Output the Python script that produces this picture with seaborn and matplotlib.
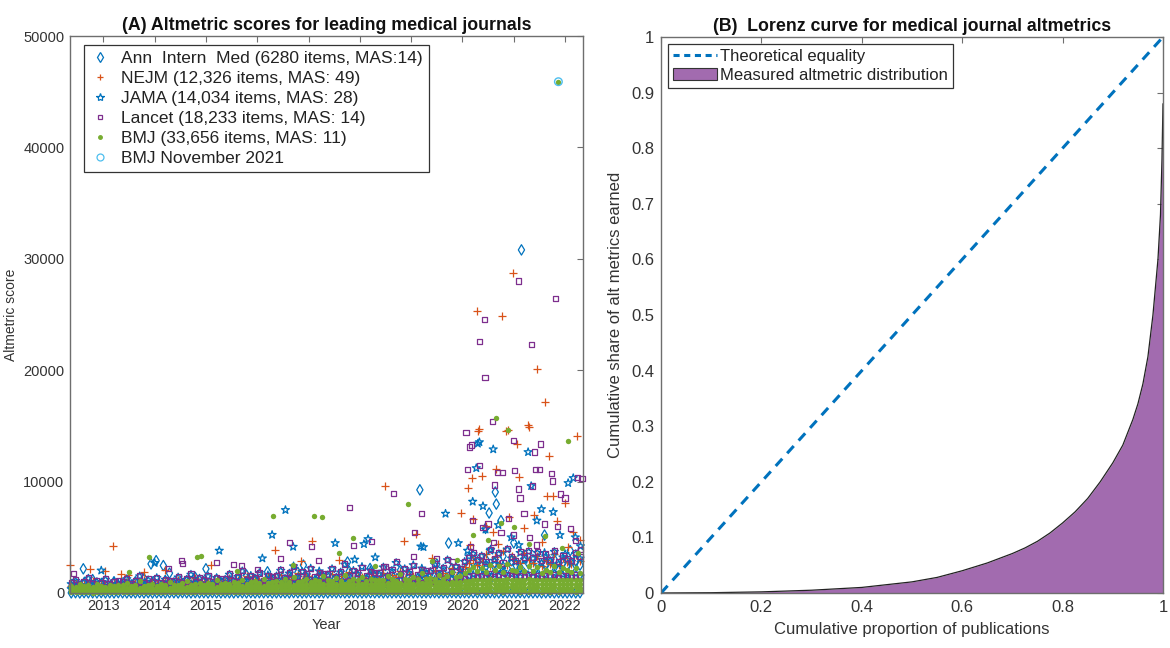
import numpy as np
import pandas as pd
import matplotlib
matplotlib.use("Agg")
import matplotlib.pyplot as plt
import seaborn as sns
from matplotlib.lines import Line2D
from matplotlib.patches import Patch

# ---------------- data: panel A (monthly bands, May 2012 .. Apr 2022) ----------------
months = pd.date_range("2012-05-01", "2022-04-01", freq="MS")

ann_l0 = [10, 25, 5, 30, 15, 20, 8, 35, 12, 22, 6, 28,
          18, 9, 27, 14, 32, 11, 24, 7, 19, 30, 13, 26,
          21, 8, 33, 16, 10, 29, 15, 23, 6, 31, 17, 12,
          25, 14, 9, 34, 20, 11, 28, 7, 22, 16, 30, 10,
          13, 27, 19, 8, 31, 24, 6, 18, 29, 12, 21, 15,
          9, 33, 17, 26, 11, 20, 35, 14, 7, 23, 28, 16,
          30, 10, 22, 15, 27, 8, 19, 32, 13, 25, 11, 21,
          17, 29, 9, 24, 14, 34, 20, 7, 26, 12, 31, 18,
          23, 11, 28, 16, 6, 30, 19, 25, 13, 33, 10, 22,
          15, 27, 8, 21, 32, 12, 24, 18, 9, 29, 14, 26]
ann_l1 = [500, 700, 400, 900, 600, 1200, 450, 800, 650, 550, 1000, 600,
          550, 800, 450, 1000, 650, 1300, 500, 900, 700, 600, 1100, 650,
          600, 900, 500, 1100, 700, 1400, 550, 1000, 750, 650, 1200, 700,
          700, 1000, 600, 1250, 800, 1600, 650, 1100, 850, 750, 1350, 800,
          850, 1200, 700, 1450, 950, 1850, 750, 1300, 1000, 900, 1550, 950,
          900, 1300, 750, 1550, 1000, 1950, 800, 1400, 1050, 950, 1650, 1000,
          950, 1400, 800, 1650, 1050, 2050, 850, 1500, 1100, 1000, 1750, 1050,
          1050, 1500, 900, 1800, 1150, 2200, 950, 1600, 2000, 2400, 2800, 2200,
          2400, 3000, 2100, 2700, 2300, 3300, 2200, 2900, 2500, 2300, 3100, 2600,
          2300, 2800, 2100, 2600, 2200, 3000, 2000, 2700, 2400, 2200, 2900, 2500]
ann_year = [2012.61, 2013.93, 2014.03, 2014.17, 2014.29, 2015.0, 2016.2, 2016.9, 2017.76,
            2018.2, 2019.17, 2019.5, 2019.73, 2020.45, 2020.52, 2020.64, 2020.66, 2020.75,
            2021.0, 2021.15, 2021.6, 2022.1]
ann_score = [2170, 2610, 2900, 2460, 1780, 2170, 1900, 2500, 2780,
             2200, 9260, 2600, 4480, 5800, 7180, 9060, 7980, 6500,
             4500, 30800, 5200, 3800]

nejm_l1 = [600, 900, 500, 800, 700, 1100, 550, 850, 750, 650, 1000, 700,
           700, 1000, 600, 900, 800, 1200, 650, 950, 850, 750, 1100, 800,
           800, 1150, 700, 1000, 900, 1350, 750, 1100, 950, 850, 1250, 900,
           950, 1350, 800, 1200, 1050, 1550, 900, 1250, 1100, 1000, 1450, 1050,
           1150, 1600, 1000, 1400, 1250, 1800, 1100, 1500, 1300, 1200, 1700, 1250,
           1200, 1700, 1050, 1500, 1300, 1900, 1150, 1600, 1400, 1250, 1800, 1350,
           1300, 1800, 1150, 1600, 1400, 2000, 1250, 1700, 1500, 1350, 1900, 1450,
           1450, 2000, 1300, 1750, 1550, 2200, 1400, 1900, 2300, 2700, 3000, 2500,
           2800, 3500, 2400, 3200, 2600, 3800, 2500, 3300, 2900, 2700, 3600, 3000,
           2700, 3300, 2400, 3000, 2600, 3500, 2500, 3100, 2800, 2600, 3400, 2900]
nejm_year = [2012.35, 2012.75, 2013.04, 2013.19, 2013.34, 2013.49, 2013.8, 2014.2, 2015.1,
             2016.34, 2016.85, 2017.06, 2017.6, 2018.5, 2018.87, 2019.1, 2019.4, 2019.98,
             2020.1, 2020.15, 2020.19, 2020.2, 2020.29, 2020.3, 2020.33, 2020.39, 2020.45,
             2020.6, 2020.65, 2020.7, 2020.78, 2020.85, 2020.88, 2020.9, 2020.99, 2021.06,
             2021.11, 2021.2, 2021.28, 2021.29, 2021.4, 2021.46, 2021.55, 2021.6, 2021.65,
             2021.69, 2021.77, 2021.85, 2022.0, 2022.05, 2022.15, 2022.24, 2022.3]
nejm_score = [2500, 2170, 1960, 4180, 1720, 1570, 1900, 2100, 2500,
              3860, 2900, 4690, 3000, 9580, 4690, 5300, 3100, 7210,
              9420, 4300, 10320, 6600, 25300, 14570, 14710, 10500, 6000,
              5500, 11120, 4400, 24850, 14570, 14620, 6800, 28700, 13370,
              10410, 5800, 15070, 14920, 7000, 20100, 4600, 17130, 8700,
              12290, 8700, 6500, 8070, 4100, 5500, 14080, 4800]

jama_l1 = [350, 480, 300, 420, 380, 520, 330, 450, 400, 360, 490, 410,
           420, 560, 380, 500, 450, 600, 400, 530, 470, 430, 570, 480,
           500, 650, 450, 580, 530, 700, 480, 620, 550, 510, 660, 560,
           600, 780, 540, 700, 640, 840, 580, 750, 670, 620, 800, 680,
           750, 950, 680, 870, 800, 1000, 720, 920, 830, 780, 980, 850,
           800, 1000, 730, 920, 850, 1080, 770, 980, 880, 830, 1040, 900,
           850, 1060, 780, 980, 900, 1150, 820, 1040, 930, 880, 1100, 950,
           950, 1180, 870, 1090, 1000, 1250, 920, 1150, 1300, 1500, 1650, 1400,
           1500, 1800, 1350, 1650, 1550, 1900, 1400, 1700, 1600, 1450, 1850, 1550,
           1450, 1700, 1350, 1600, 1500, 1800, 1400, 1650, 1550, 1450, 1750, 1500]
jama_l2 = [800, 1100, 700, 950, 1300, 750, 1000, 900, 1200, 650, 1050, 850,
           900, 1250, 800, 1050, 1500, 850, 1150, 1000, 1350, 750, 1200, 950,
           1000, 1400, 900, 1200, 1650, 950, 1300, 1100, 1500, 850, 1350, 1050,
           1200, 1650, 1050, 1450, 1950, 1100, 1550, 1300, 1800, 1000, 1600, 1250,
           1500, 2000, 1300, 1750, 2400, 1400, 1900, 1600, 2200, 1250, 1950, 1550,
           1600, 2150, 1400, 1850, 2550, 1500, 2000, 1700, 2350, 1350, 2050, 1650,
           1700, 2300, 1500, 2000, 2700, 1600, 2150, 1800, 2500, 1450, 2200, 1750,
           1900, 2550, 1650, 2200, 2950, 1750, 2350, 2000, 2800, 3300, 3500, 2900,
           3300, 2600, 3800, 2900, 3500, 2500, 3900, 3100, 2800, 3600, 3000, 3700,
           3100, 3600, 2700, 3300, 2900, 3700, 2600, 3200, 3000, 2800, 3500, 3100]
jama_year = [2012.96, 2014.0, 2015.26, 2016.1, 2016.29, 2016.55, 2016.7, 2017.52, 2017.9,
             2018.08, 2018.16, 2018.3, 2019.19, 2019.24, 2019.67, 2019.92, 2020.1, 2020.2,
             2020.27, 2020.3, 2020.33, 2020.4, 2020.45, 2020.55, 2020.6, 2020.7, 2020.95,
             2021.1, 2021.28, 2021.34, 2021.45, 2021.54, 2021.6, 2021.77, 2021.9, 2022.0,
             2022.06, 2022.16, 2022.2, 2022.3]
jama_score = [2020, 2700, 3800, 3110, 5220, 7450, 4150, 4480, 3000,
              4390, 4840, 3200, 4180, 4120, 7120, 4480, 3800, 8200,
              11210, 13410, 13540, 7800, 5700, 3900, 12900, 6100, 5000,
              4300, 12650, 9600, 6500, 7530, 3600, 7270, 5200, 3500,
              9870, 10320, 5000, 4200]

lancet_l1 = [450, 380, 600, 420, 520, 350, 480, 560, 400, 500, 440, 530,
             520, 450, 640, 490, 580, 430, 560, 610, 470, 540, 500, 600,
             600, 520, 720, 560, 650, 500, 630, 690, 540, 610, 580, 680,
             700, 620, 820, 660, 760, 600, 740, 800, 640, 720, 680, 780,
             850, 760, 980, 800, 920, 740, 880, 960, 780, 870, 830, 940,
             900, 820, 1050, 860, 980, 800, 940, 1020, 840, 930, 890, 1000,
             950, 870, 1100, 910, 1030, 850, 990, 1080, 890, 980, 940, 1060,
             1050, 960, 1200, 1000, 1130, 950, 1100, 1200, 1300, 1500, 1600, 1450,
             1550, 1400, 1700, 1480, 1620, 1380, 1650, 1520, 1450, 1600, 1500, 1680,
             1500, 1600, 1420, 1550, 1480, 1650, 1400, 1580, 1520, 1460, 1620, 1500]
lancet_l2 = [900, 1200, 750, 1000, 1400, 850, 1100, 950, 1300, 800, 1050, 1150,
             1000, 1300, 850, 1150, 1600, 950, 1250, 1050, 1400, 900, 1200, 1100,
             1100, 1500, 950, 1300, 1700, 1050, 1400, 1200, 1600, 1000, 1350, 1250,
             1300, 1700, 1100, 1500, 2000, 1200, 1600, 1400, 1800, 1150, 1550, 1450,
             1600, 2100, 1400, 1800, 2400, 1500, 1900, 1700, 2200, 1450, 1850, 1750,
             1700, 2200, 1500, 1900, 2600, 1600, 2000, 1800, 2300, 1550, 1950, 1850,
             1800, 2400, 1600, 2100, 2800, 1700, 2200, 1950, 2500, 1650, 2100, 2000,
             2000, 2600, 1800, 2300, 3000, 1900, 2400, 2200, 2800, 3200, 3600, 3000,
             3400, 2800, 3900, 3100, 3600, 2700, 4000, 3300, 2900, 3700, 3200, 3800,
             3200, 3700, 2900, 3500, 3000, 3800, 2800, 3400, 3100, 2900, 3600, 3300]
lancet_year = [2012.42, 2014.27, 2014.53, 2014.55, 2015.2, 2015.53, 2015.7, 2016.0, 2016.46,
               2016.63, 2017.06, 2017.2, 2017.8, 2017.88, 2018.22, 2018.5, 2018.65, 2019.05,
               2019.06, 2019.2, 2019.5, 2019.8, 2020.07, 2020.1, 2020.14, 2020.15, 2020.17,
               2020.2, 2020.33, 2020.34, 2020.4, 2020.43, 2020.44, 2020.5, 2020.58, 2020.6,
               2020.62, 2020.68, 2020.75, 2020.78, 2020.9, 2020.99, 2021.0, 2021.01, 2021.09,
               2021.1, 2021.12, 2021.2, 2021.3, 2021.34, 2021.36, 2021.4, 2021.42, 2021.45,
               2021.5, 2021.52, 2021.6, 2021.73, 2021.75, 2021.81, 2021.85, 2021.91, 2022.0,
               2022.1, 2022.2, 2022.24, 2022.3, 2022.33]
lancet_score = [1780, 2220, 2900, 2680, 2760, 2550, 2460, 2100, 3110,
                4540, 4180, 2900, 7660, 4240, 4600, 2400, 8930, 3300,
                5430, 7100, 3100, 2800, 14420, 11120, 13110, 4200, 13280,
                6500, 22600, 11480, 5900, 24580, 19370, 6200, 15370, 4500,
                9690, 10850, 5400, 10850, 6700, 13720, 5200, 11030, 28000,
                9330, 8520, 7100, 5000, 22330, 9600, 12650, 11120, 4300,
                11120, 13370, 6200, 10760, 10050, 26460, 6000, 8880, 8520,
                5800, 4700, 10400, 3900, 10300]

bmj_l1 = [60, 45, 80, 55, 70, 40, 65, 50, 75, 60, 45, 70,
          55, 70, 50, 80, 65, 45, 60, 75, 50, 65, 70, 55,
          70, 60, 85, 55, 75, 65, 50, 80, 70, 60, 75, 65,
          80, 65, 70, 90, 60, 75, 85, 70, 65, 80, 90, 75,
          85, 100, 75, 90, 80, 95, 70, 85, 100, 80, 90, 75,
          90, 80, 105, 85, 95, 110, 80, 90, 100, 85, 95, 105,
          100, 90, 110, 95, 85, 105, 115, 90, 100, 110, 95, 105,
          110, 95, 120, 105, 100, 115, 110, 125, 105, 130, 140, 120,
          140, 125, 150, 130, 145, 120, 135, 150, 140, 125, 145, 130,
          135, 150, 125, 140, 130, 145, 120, 140, 135, 150, 125, 140]
bmj_l2 = [180, 150, 210, 170, 195, 160, 185, 205, 165, 190, 175, 200,
          200, 185, 220, 195, 175, 210, 230, 190, 205, 180, 215, 200,
          230, 210, 245, 220, 200, 235, 215, 250, 225, 205, 240, 230,
          260, 240, 280, 255, 235, 270, 250, 290, 265, 245, 275, 260,
          310, 290, 330, 300, 285, 320, 305, 340, 295, 315, 300, 325,
          330, 315, 350, 325, 310, 345, 335, 360, 320, 340, 330, 350,
          360, 340, 375, 350, 335, 370, 355, 385, 345, 365, 350, 380,
          390, 370, 410, 385, 365, 400, 380, 420, 430, 460, 470, 490,
          490, 470, 510, 485, 500, 475, 520, 495, 480, 505, 490, 515,
          475, 495, 460, 485, 470, 500, 465, 490, 480, 470, 495, 475]
bmj_l3 = [300, 280, 330, 290, 315, 275, 305, 320, 285, 310, 295, 325,
          340, 320, 365, 330, 310, 355, 345, 325, 360, 335, 350, 340,
          390, 370, 405, 380, 360, 395, 385, 410, 375, 365, 400, 390,
          450, 430, 470, 445, 425, 460, 440, 480, 455, 435, 465, 450,
          530, 510, 555, 525, 500, 545, 520, 560, 515, 540, 525, 550,
          570, 550, 590, 565, 545, 585, 560, 600, 555, 580, 565, 595,
          610, 590, 630, 605, 585, 625, 600, 640, 595, 620, 605, 635,
          690, 670, 710, 680, 660, 700, 685, 720, 740, 790, 820, 840,
          840, 820, 860, 835, 850, 825, 870, 845, 830, 855, 840, 865,
          815, 835, 800, 825, 810, 840, 805, 830, 820, 810, 835, 815]
bmj_l4 = [430, 410, 470, 420, 450, 400, 440, 460, 415, 445, 425, 465,
          490, 470, 520, 480, 460, 510, 495, 475, 515, 485, 500, 490,
          550, 530, 575, 545, 520, 565, 540, 580, 535, 525, 570, 555,
          640, 610, 665, 630, 600, 655, 625, 680, 645, 615, 660, 640,
          750, 720, 785, 745, 710, 770, 735, 795, 730, 765, 740, 780,
          810, 785, 840, 800, 775, 830, 795, 850, 790, 820, 805, 845,
          865, 840, 895, 860, 830, 885, 850, 905, 845, 875, 860, 900,
          980, 950, 1010, 965, 940, 995, 970, 1020, 1060, 1120, 1170, 1200,
          1190, 1160, 1220, 1185, 1205, 1170, 1230, 1195, 1175, 1210, 1190, 1225,
          1150, 1180, 1130, 1165, 1145, 1190, 1140, 1175, 1160, 1145, 1185, 1155]
bmj_l5 = [620, 540, 780, 590, 700, 560, 850, 640, 580, 720, 610, 690,
          680, 900, 620, 750, 1100, 660, 720, 830, 640, 780, 700, 950,
          760, 690, 880, 1050, 720, 800, 940, 700, 860, 780, 1150, 820,
          900, 820, 1000, 870, 1200, 850, 960, 1100, 880, 1300, 920, 980,
          1050, 980, 1250, 1020, 1400, 1000, 1120, 1300, 990, 1180, 1080, 1500,
          1150, 1080, 1350, 1100, 1600, 1050, 1250, 1200, 1450, 1120, 1300, 1180,
          1200, 1150, 1500, 1250, 1120, 1700, 1300, 1180, 1400, 1250, 1800, 1220,
          1350, 1250, 1600, 1300, 1500, 1900, 1400, 1550, 1800, 2100, 2300, 2000,
          2200, 1900, 2500, 2050, 2400, 1850, 2600, 2100, 1950, 2300, 2000, 2450,
          1950, 2300, 1800, 2100, 1900, 2400, 1850, 2200, 2050, 1900, 2250, 1800]
bmj_year = [2013.5, 2013.9, 2014.83, 2014.9, 2015.6, 2016.3, 2016.7, 2017.1, 2017.27,
            2017.6, 2017.86, 2018.3, 2018.93, 2019.4, 2019.9, 2020.2, 2020.5, 2020.65,
            2020.75, 2020.88, 2021.0, 2021.3, 2021.6, 2021.87, 2021.95, 2022.05, 2022.25]
bmj_score = [1900, 3200, 3200, 3350, 2000, 6910, 2500, 6910, 6820,
             3600, 4920, 2400, 8010, 2900, 3000, 5200, 4800, 15670,
             6300, 14620, 5900, 4400, 5100, 45900, 4000, 13650, 3600]

bmj_nov_year = [2021.87]
bmj_nov_score = [45900]

labels_a = ["Ann  Intern  Med (6280 items, MAS:14)",
            "NEJM (12,326 items, MAS: 49)",
            "JAMA (14,034 items, MAS: 28)",
            "Lancet (18,233 items, MAS: 14)",
            "BMJ (33,656 items, MAS: 11)",
            "BMJ November 2021"]
year_ticks = [2013, 2014, 2015, 2016, 2017, 2018, 2019, 2020, 2021, 2022]
score_ticks = [0, 10000, 20000, 30000, 40000, 50000]

# ---------------- data: panel B (Lorenz curve) ----------------
lorenz_x = [0, 0.1, 0.2, 0.3, 0.4, 0.5, 0.55, 0.6, 0.65, 0.7, 0.725, 0.75, 0.775, 0.8,
            0.825, 0.85, 0.875, 0.9, 0.92, 0.94, 0.95, 0.96, 0.97, 0.98, 0.99, 0.995,
            0.998, 1.0]
lorenz_y = [0, 0.0005, 0.002, 0.005, 0.01, 0.02, 0.028, 0.04, 0.054, 0.071, 0.081, 0.093,
            0.108, 0.126, 0.146, 0.17, 0.2, 0.234, 0.266, 0.312, 0.34, 0.376, 0.425, 0.5,
            0.6, 0.68, 0.78, 0.88]
equality = [0, 1]
labels_b = ["Theoretical equality", "Measured altmetric distribution"]

# ---------------- style ----------------
sns.set_theme(style="white")
plt.rcParams["font.family"] = ["Liberation Sans", "DejaVu Sans"]
plt.rcParams["axes.edgecolor"] = "#6e6e6e"
plt.rcParams["xtick.color"] = "#6e6e6e"
plt.rcParams["ytick.color"] = "#6e6e6e"
plt.rcParams["xtick.labelcolor"] = "#333333"
plt.rcParams["ytick.labelcolor"] = "#333333"

C_BLUE = "#0072BD"
C_ORANGE = "#D95319"
C_PURPLE = "#7E2F8E"
C_GREEN = "#77AC30"
C_CYAN = "#4DBEEE"

fig = plt.figure(figsize=(11.7, 6.48), dpi=100)
axA = fig.add_axes([0.0598, 0.0849, 0.4385, 0.8595])
axB = fig.add_axes([0.565, 0.0849, 0.4290, 0.8580])

month_pos = np.asarray(months.year + (months.month - 0.5) / 12.0, dtype=float)


def frame(layers, years, scores):
    xs = [month_pos for _ in layers] + [np.asarray(years, dtype=float)]
    ys = [np.asarray(l, dtype=float) for l in layers] + [np.asarray(scores, dtype=float)]
    return pd.DataFrame({"year": np.concatenate(xs), "score": np.concatenate(ys)})


series = [
    (frame([ann_l0, ann_l1], ann_year, ann_score), "d", 28, C_BLUE, True),
    (frame([nejm_l1], nejm_year, nejm_score), "+", 30, C_ORANGE, False),
    (frame([jama_l1, jama_l2], jama_year, jama_score), "*", 36, C_BLUE, True),
    (frame([lancet_l1, lancet_l2], lancet_year, lancet_score), "s", 14, C_PURPLE, True),
    (frame([bmj_l1, bmj_l2, bmj_l3, bmj_l4, bmj_l5], bmj_year, bmj_score), "o", 15, C_GREEN, False),
]

for df, mk, size, col, hollow in series:
    if hollow:
        sns.scatterplot(data=df, x="year", y="score", ax=axA, marker=mk, s=size,
                        facecolors="none", edgecolor=col, linewidth=0.9, clip_on=False)
    elif mk == "+":
        sns.scatterplot(data=df, x="year", y="score", ax=axA, marker=mk, s=size,
                        color=col, linewidth=0.9, clip_on=False)
    else:
        sns.scatterplot(data=df, x="year", y="score", ax=axA, marker=mk, s=size,
                        color=col, edgecolor=col, linewidth=0, clip_on=False)

sns.scatterplot(x=bmj_nov_year, y=bmj_nov_score, ax=axA, marker="o", s=30,
                facecolors="none", edgecolor=C_CYAN, linewidth=1.0)
sns.scatterplot(x=bmj_nov_year, y=bmj_nov_score, ax=axA, marker="o", s=5,
                color=C_GREEN, edgecolor=C_GREEN, linewidth=0)

axA.set_xlim(2012.35, 2022.35)
axA.set_ylim(0, 50000)
axA.set_xticks(year_ticks)
axA.set_xticklabels([str(y) for y in year_ticks])
axA.set_yticks(score_ticks)
axA.set_yticklabels([str(v) for v in score_ticks])
axA.tick_params(direction="in", top=True, right=True, length=4, width=0.8, pad=4)
axA.tick_params(axis="x", labelsize=10.5)
axA.tick_params(axis="y", labelsize=10.5)
axA.set_xlabel("Year", fontsize=10.5, color="#333333", labelpad=4)
axA.set_ylabel("Altmetric score", fontsize=10, color="#333333", labelpad=4)
axA.set_title("(A) Altmetric scores for leading medical journals", fontsize=12.8,
              fontweight="bold", color="#111111", pad=4)
for sp in axA.spines.values():
    sp.set_linewidth(1.0)

handles_a = [
    Line2D([], [], ls="none", marker="d", ms=5, mfc="none", mec=C_BLUE, mew=0.9),
    Line2D([], [], ls="none", marker="+", ms=5, mec=C_ORANGE, mew=0.9),
    Line2D([], [], ls="none", marker="*", ms=6, mfc="none", mec=C_BLUE, mew=0.9),
    Line2D([], [], ls="none", marker="s", ms=3.5, mfc="none", mec=C_PURPLE, mew=0.9),
    Line2D([], [], ls="none", marker="o", ms=2.5, mfc=C_GREEN, mec=C_GREEN),
    Line2D([], [], ls="none", marker="o", ms=5, mfc="none", mec=C_CYAN, mew=0.9),
]
legA = axA.legend(handles_a, labels_a, loc="upper left", bbox_to_anchor=(0.02, 0.99),
                  fontsize=12.5, frameon=True, fancybox=False, framealpha=1,
                  edgecolor="#333333", handlelength=1.2, handletextpad=0.6,
                  labelspacing=0.28, borderpad=0.35, borderaxespad=0.2)
legA.get_frame().set_linewidth(0.9)
for t in legA.get_texts():
    t.set_color("#222222")

# ---------------- panel B ----------------
axB.fill_between(lorenz_x, 0, lorenz_y, color="#A26BAF", linewidth=0)
sns.lineplot(x=lorenz_x, y=lorenz_y, ax=axB, color="#222222", linewidth=0.9,
             sort=False, estimator=None)
sns.lineplot(x=equality, y=equality, ax=axB, color=C_BLUE, linewidth=2.2,
             linestyle=(0, (3.2, 2.4)), sort=False, estimator=None)

axB.set_xlim(0, 1)
axB.set_ylim(0, 1)
xt = [0, 0.2, 0.4, 0.6, 0.8, 1.0]
yt = [0, 0.1, 0.2, 0.3, 0.4, 0.5, 0.6, 0.7, 0.8, 0.9, 1.0]
axB.set_xticks(xt)
axB.set_xticklabels(["0", "0.2", "0.4", "0.6", "0.8", "1"])
axB.set_yticks(yt)
axB.set_yticklabels(["0", "0.1", "0.2", "0.3", "0.4", "0.5", "0.6", "0.7", "0.8", "0.9", "1"])
axB.tick_params(direction="in", top=True, right=True, length=4, width=0.8,
                labelsize=12, pad=5)
axB.set_xlabel("Cumulative proportion of publications", fontsize=12, color="#333333",
               labelpad=5)
axB.set_ylabel("Cumulative share of alt metrics earned", fontsize=12, color="#333333",
               labelpad=6)
axB.set_title("(B)  Lorenz curve for medical journal altmetrics", fontsize=12.8,
              fontweight="bold", color="#111111", pad=4)
for sp in axB.spines.values():
    sp.set_linewidth(1.0)

handles_b = [Line2D([], [], color=C_BLUE, lw=2.2, ls=(0, (2.0, 1.5))),
             Patch(facecolor="#A26BAF", edgecolor="#333333", linewidth=0.8)]
legB = axB.legend(handles_b, labels_b, loc="upper left", bbox_to_anchor=(0.008, 0.993),
                  fontsize=12, frameon=True, fancybox=False, framealpha=1,
                  edgecolor="#333333", handlelength=2.6, handletextpad=0.2,
                  labelspacing=0.2, borderpad=0.3, borderaxespad=0.2)
legB.get_frame().set_linewidth(0.9)
for t in legB.get_texts():
    t.set_color("#222222")

fig.savefig("out.png", dpi=100)
